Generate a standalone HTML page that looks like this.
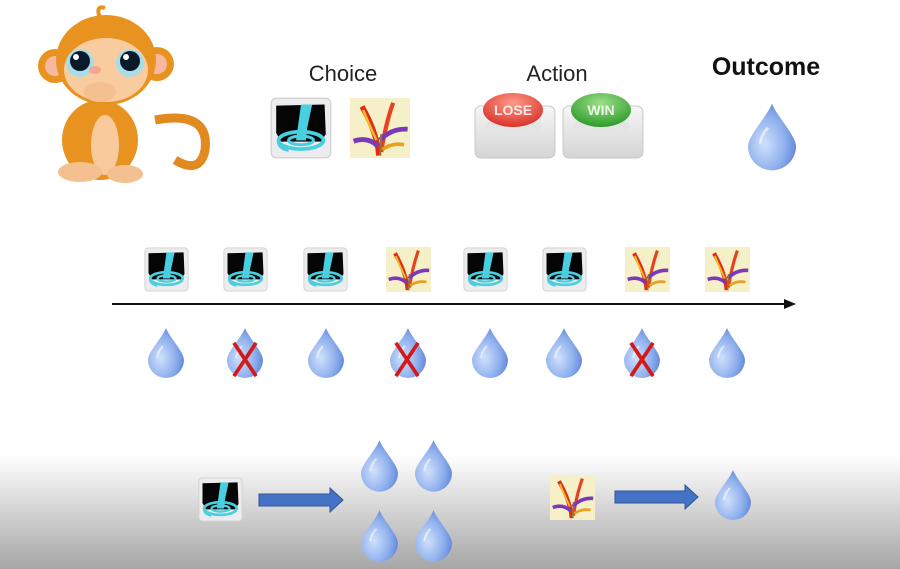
<!DOCTYPE html>
<html><head><meta charset="utf-8"><style>
html,body{margin:0;padding:0;width:900px;height:569px;overflow:hidden;background:#fff}
svg{display:block}
</style></head><body>
<svg width="900" height="569" viewBox="0 0 900 569" xmlns="http://www.w3.org/2000/svg" font-family="Liberation Sans, sans-serif">
<defs>
<linearGradient id="bg" x1="0" y1="0" x2="0" y2="1">
<stop offset="0" stop-color="#fff"/><stop offset="1" stop-color="#a6a6a6"/></linearGradient>
<radialGradient id="dg" cx="0.35" cy="0.6" r="0.7">
<stop offset="0" stop-color="#cfe0fb"/><stop offset="0.6" stop-color="#8fb0ee"/><stop offset="1" stop-color="#5d82d6"/></radialGradient>
<radialGradient id="red" cx="0.5" cy="0.3" r="0.7"><stop offset="0" stop-color="#ff9a88"/><stop offset="1" stop-color="#d8322a"/></radialGradient>
<radialGradient id="grn" cx="0.5" cy="0.3" r="0.7"><stop offset="0" stop-color="#9be08a"/><stop offset="1" stop-color="#2e9a2a"/></radialGradient>
<linearGradient id="plate" x1="0" y1="0" x2="0" y2="1"><stop offset="0" stop-color="#f6f6f6"/><stop offset="1" stop-color="#d4d4d4"/></linearGradient>
<symbol id="drop" viewBox="0 0 36 50">
<path d="M18 0 C22 10 36 24 36 32 A18 18 0 0 1 0 32 C0 24 14 10 18 0Z" fill="url(#dg)"/>
<path d="M9 30 C10 24 13 20 15 18" stroke="#fff" stroke-width="2" fill="none" opacity="0.6"/>
</symbol>
<symbol id="water" viewBox="0 0 100 100">
<rect x="2" y="2" width="96" height="96" rx="8" fill="#ececee" stroke="#d0d0d0" stroke-width="2"/>
<path d="M10 14 L88 12 L90 60 L82 72 L18 72 L10 58Z" fill="#050505"/>
<path d="M50 12 L68 12 L60 50 L58 70 L42 70 Z" fill="#49d0e0"/>
<ellipse cx="50" cy="70" rx="36" ry="14" fill="none" stroke="#49d0e0" stroke-width="6"/>
<ellipse cx="50" cy="70" rx="20" ry="7" fill="none" stroke="#49d0e0" stroke-width="5"/>
<path d="M14 66 Q10 82 30 86" stroke="#49d0e0" stroke-width="5" fill="none"/>
</symbol>
<symbol id="plant" viewBox="0 0 100 100">
<rect x="0" y="0" width="100" height="100" fill="#f6f0c8"/>
<path d="M48 96 Q46 60 20 14" stroke="#e02a1a" stroke-width="9" fill="none"/>
<path d="M44 70 Q30 40 22 20" stroke="#f0c020" stroke-width="4" fill="none"/>
<path d="M52 90 Q60 40 72 8" stroke="#e84020" stroke-width="7" fill="none"/>
<path d="M50 70 Q70 50 96 52" stroke="#7a3ab8" stroke-width="8" fill="none"/>
<path d="M46 80 Q30 64 6 72" stroke="#7a3ab8" stroke-width="8" fill="none"/>
<path d="M54 86 Q70 74 90 78" stroke="#e8a020" stroke-width="6" fill="none"/>
<path d="M50 96 L52 60" stroke="#8a7a30" stroke-width="3"/>
</symbol>
<symbol id="x" viewBox="0 0 30 40">
<path d="M3 2 L27 38 M27 2 L3 38" stroke="#d21a1a" stroke-width="4"/>
</symbol>
</defs>
<rect x="0" y="455" width="900" height="114" fill="url(#bg)"/>

<!-- monkey -->
<g>
<path d="M155 120 Q210 110 205 150 Q200 175 175 160" stroke="#e08a20" stroke-width="9" fill="none"/>
<ellipse cx="100" cy="140" rx="38" ry="40" fill="#e8921f"/>
<ellipse cx="105" cy="145" rx="14" ry="30" fill="#f8c99a"/>
<ellipse cx="80" cy="172" rx="22" ry="10" fill="#f5c090"/>
<ellipse cx="125" cy="174" rx="18" ry="9" fill="#f5c090"/>
<circle cx="55" cy="66" r="17" fill="#e8921f"/><circle cx="55" cy="66" r="10" fill="#f8b8a0"/>
<circle cx="157" cy="64" r="17" fill="#e8921f"/><circle cx="157" cy="64" r="10" fill="#f8b8a0"/>
<ellipse cx="106" cy="60" rx="50" ry="45" fill="#e8921f"/>
<ellipse cx="106" cy="70" rx="42" ry="32" fill="#f8cc9e"/>
<path d="M100 18 Q95 5 105 8" stroke="#e8921f" stroke-width="4" fill="none"/>
<circle cx="80" cy="63" r="14" fill="#a8dce8"/><circle cx="80" cy="61" r="10" fill="#0a1a2a"/><circle cx="76" cy="57" r="3" fill="#fff"/>
<circle cx="130" cy="63" r="14" fill="#a8dce8"/><circle cx="130" cy="61" r="10" fill="#0a1a2a"/><circle cx="126" cy="57" r="3" fill="#fff"/>
<ellipse cx="95" cy="70" rx="6" ry="4" fill="#f0a890"/>
<ellipse cx="100" cy="92" rx="16" ry="10" fill="#f5c090"/>
</g>

<!-- top -->
<text x="343" y="81" font-size="22" text-anchor="middle" fill="#222">Choice</text>
<text x="557" y="81" font-size="22" text-anchor="middle" fill="#222">Action</text>
<text x="766" y="75" font-size="25" font-weight="bold" text-anchor="middle" fill="#111">Outcome</text>
<use href="#water" x="270" y="97" width="62" height="62"/>
<use href="#plant" x="350" y="98" width="60" height="60"/>
<g>
<rect x="475" y="106" width="80" height="52" rx="6" fill="url(#plate)" stroke="#c8c8c8"/>
<ellipse cx="514" cy="126" rx="28" ry="9" fill="#e4e4e4"/>
<ellipse cx="513" cy="110" rx="30" ry="17" fill="url(#red)"/>
<text x="513" y="115" font-size="14" font-weight="bold" text-anchor="middle" fill="#fff" fill-opacity="0.85">LOSE</text>
<rect x="563" y="106" width="80" height="52" rx="6" fill="url(#plate)" stroke="#c8c8c8"/>
<ellipse cx="602" cy="126" rx="28" ry="9" fill="#e4e4e4"/>
<ellipse cx="601" cy="110" rx="30" ry="17" fill="url(#grn)"/>
<text x="601" y="115" font-size="14" font-weight="bold" text-anchor="middle" fill="#fff" fill-opacity="0.85">WIN</text>
</g>
<use href="#drop" x="748" y="102" width="48" height="70"/>

<!-- timeline -->
<use href="#water" x="144" y="247" width="45" height="45"/>
<use href="#water" x="223" y="247" width="45" height="45"/>
<use href="#water" x="303" y="247" width="45" height="45"/>
<use href="#plant" x="386" y="247" width="45" height="45"/>
<use href="#water" x="463" y="247" width="45" height="45"/>
<use href="#water" x="542" y="247" width="45" height="45"/>
<use href="#plant" x="625" y="247" width="45" height="45"/>
<use href="#plant" x="705" y="247" width="45" height="45"/>
<line x1="112" y1="304" x2="786" y2="304" stroke="#111" stroke-width="2"/>
<path d="M796 304 L784 299 L784 309Z" fill="#111"/>
<use href="#drop" x="148" y="328" width="36" height="50"/>
<use href="#drop" x="227" y="328" width="36" height="50"/>
<use href="#x" x="231" y="341" width="28" height="37"/>
<use href="#drop" x="308" y="328" width="36" height="50"/>
<use href="#drop" x="390" y="328" width="36" height="50"/>
<use href="#x" x="393" y="341" width="28" height="37"/>
<use href="#drop" x="472" y="328" width="36" height="50"/>
<use href="#drop" x="546" y="328" width="36" height="50"/>
<use href="#drop" x="624" y="328" width="36" height="50"/>
<use href="#x" x="628" y="341" width="28" height="37"/>
<use href="#drop" x="709" y="328" width="36" height="50"/>

<!-- bottom -->
<use href="#water" x="198" y="477" width="45" height="45"/>
<path d="M259 494 L330 494 L330 488 L343 500 L330 512 L330 506 L259 506Z" fill="#4472c4" stroke="#2f5597"/>
<use href="#drop" x="361" y="440" width="37" height="52"/>
<use href="#drop" x="415" y="440" width="37" height="52"/>
<use href="#drop" x="361" y="510" width="37" height="52"/>
<use href="#drop" x="415" y="510" width="37" height="52"/>
<use href="#plant" x="550" y="475" width="45" height="45"/>
<path d="M615 491 L685 491 L685 485 L698 497 L685 509 L685 503 L615 503Z" fill="#4472c4" stroke="#2f5597"/>
<use href="#drop" x="715" y="470" width="36" height="50"/>
</svg>
</body></html>
